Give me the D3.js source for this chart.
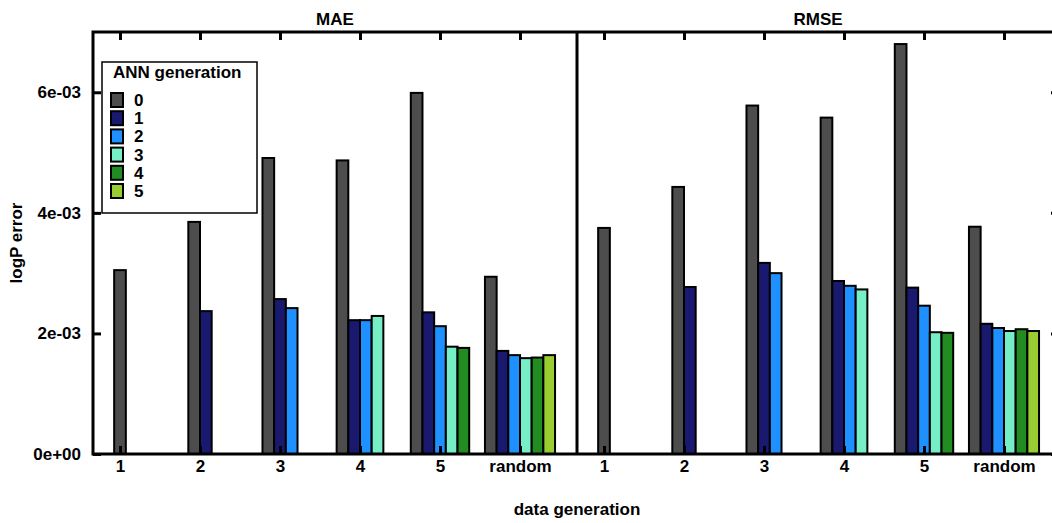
<!DOCTYPE html>
<html>
<head>
<meta charset="utf-8">
<script src="https://cdn.jsdelivr.net/npm/d3@7"></script>
<style>
  html, body { margin: 0; padding: 0; background: #fff; }
  svg { display: block; }
  text { font-family: "Liberation Sans", Arial, sans-serif; font-weight: bold; fill: #000; }
</style>
</head>
<body>
<svg id="chart" width="1052" height="523"></svg>
<script>
// Data generations on the x axis, ANN generations as grouped bars
const categories = ["1", "2", "3", "4", "5", "random"];
const generations = ["0", "1", "2", "3", "4", "5"];
const genColors = ["#4d4d4d", "#191970", "#1e90ff", "#76eec6", "#228b22", "#9acd32"];

// Errors per data generation; entry i belongs to ANN generation i
const maeValues = [
  [3.05e-3],
  [3.85e-3, 2.37e-3],
  [4.91e-3, 2.57e-3, 2.42e-3],
  [4.87e-3, 2.22e-3, 2.22e-3, 2.29e-3],
  [5.99e-3, 2.35e-3, 2.12e-3, 1.78e-3, 1.76e-3],
  [2.94e-3, 1.71e-3, 1.64e-3, 1.59e-3, 1.60e-3, 1.64e-3]
];
const rmseValues = [
  [3.75e-3],
  [4.43e-3, 2.77e-3],
  [5.78e-3, 3.17e-3, 3.00e-3],
  [5.58e-3, 2.87e-3, 2.79e-3, 2.73e-3],
  [6.80e-3, 2.76e-3, 2.46e-3, 2.02e-3, 2.01e-3],
  [3.77e-3, 2.16e-3, 2.09e-3, 2.04e-3, 2.07e-3, 2.04e-3]
];

const yTicks = [0, 0.002, 0.004, 0.006];
const yTickLabels = ["0e+00", "2e-03", "4e-03", "6e-03"];
const yMax = 0.007;

const svg = d3.select("#chart");
const plotTop = 32, plotBottom = 454;
const y = d3.scaleLinear().domain([0, yMax]).range([plotBottom, plotTop]);
const tickLen = 8;
const fontSize = 17;

const panels = [
  { title: "MAE", values: maeValues, left: 93, right: 577 },
  { title: "RMSE", values: rmseValues, left: 577, right: 1059 }
];

panels.forEach((p) => {
  const x = d3.scalePoint().domain(categories).range([p.left + 27, p.left + 427]);
  const step = x.step();
  const bw = step * 0.146;
  const g = svg.append("g");

  // bars
  p.values.forEach((vals, ci) => {
    const cx = x(categories[ci]);
    const n = vals.length;
    const x0 = cx - n * bw / 2;
    g.selectAll(null).data(vals).enter().append("rect")
      .attr("x", (d, i) => x0 + i * bw)
      .attr("y", d => y(d))
      .attr("width", bw)
      .attr("height", d => plotBottom - y(d))
      .attr("fill", (d, i) => genColors[i])
      .attr("stroke", "#000")
      .attr("stroke-width", 2);
  });

  // bottom axis with inward ticks
  const xb = d3.axisBottom(x).tickSize(-tickLen).tickPadding(6);
  const gb = svg.append("g").attr("transform", `translate(0,${plotBottom})`).call(xb);
  gb.select(".domain").remove();
  gb.selectAll(".tick line").attr("stroke", "#000").attr("stroke-width", 3);
  gb.selectAll(".tick text").attr("y", 6).attr("font-size", fontSize).attr("font-family", "Liberation Sans")
    .attr("font-weight", "bold").attr("fill", "#000");

  // top mirrored ticks
  const xt = d3.axisTop(x).tickSize(-tickLen).tickFormat("");
  const gt = svg.append("g").attr("transform", `translate(0,${plotTop})`).call(xt);
  gt.select(".domain").remove();
  gt.selectAll(".tick line").attr("stroke", "#000").attr("stroke-width", 3);

  // title
  svg.append("text").attr("x", (p.left + p.right) / 2).attr("y", 25)
    .attr("text-anchor", "middle").attr("font-size", fontSize).text(p.title);
});

// left y axis (first panel)
const yl = d3.axisLeft(y).tickValues(yTicks).tickFormat((d, i) => yTickLabels[i])
  .tickSize(-tickLen).tickPadding(tickLen + 4);
const gy = svg.append("g").attr("transform", `translate(${panels[0].left},0)`).call(yl);
gy.select(".domain").remove();
gy.selectAll(".tick line").attr("stroke", "#000").attr("stroke-width", 3);
gy.selectAll(".tick text").attr("x", -12).attr("font-size", fontSize).attr("font-family", "Liberation Sans")
  .attr("font-weight", "bold").attr("fill", "#000");

// mirrored y ticks on the far right border
const yr = d3.axisRight(y).tickValues(yTicks).tickSize(-tickLen).tickFormat("");
const gyr = svg.append("g").attr("transform", `translate(${panels[1].right},0)`).call(yr);
gyr.select(".domain").remove();
gyr.selectAll(".tick line").attr("stroke", "#000").attr("stroke-width", 3);

// frame lines
const frame = svg.append("g").attr("stroke", "#000").attr("stroke-width", 3).attr("fill", "none");
frame.append("rect").attr("x", panels[0].left).attr("y", plotTop)
  .attr("width", panels[1].right - panels[0].left).attr("height", plotBottom - plotTop);
frame.append("line").attr("x1", panels[1].left).attr("x2", panels[1].left)
  .attr("y1", plotTop).attr("y2", plotBottom);

// legend
const lg = svg.append("g");
lg.append("rect").attr("x", 102).attr("y", 62).attr("width", 155).attr("height", 151)
  .attr("fill", "#fff").attr("stroke", "#000").attr("stroke-width", 1.5);
lg.append("text").attr("x", 113).attr("y", 78).attr("font-size", fontSize).text("ANN generation");
const rowY = d3.scalePoint().domain(generations).range([100, 191]);
generations.forEach((gen, i) => {
  const cy = rowY(gen);
  lg.append("rect").attr("x", 111).attr("y", cy - 7).attr("width", 12).attr("height", 14)
    .attr("fill", genColors[i]).attr("stroke", "#000").attr("stroke-width", 2);
  lg.append("text").attr("x", 134).attr("y", cy + 6).attr("font-size", fontSize).text(gen);
});

// axis titles
svg.append("text").attr("x", 577).attr("y", 515).attr("text-anchor", "middle")
  .attr("font-size", fontSize).text("data generation");
svg.append("text").attr("transform", "translate(22,243) rotate(-90)")
  .attr("text-anchor", "middle").attr("font-size", fontSize).text("logP error");
</script>
</body>
</html>
